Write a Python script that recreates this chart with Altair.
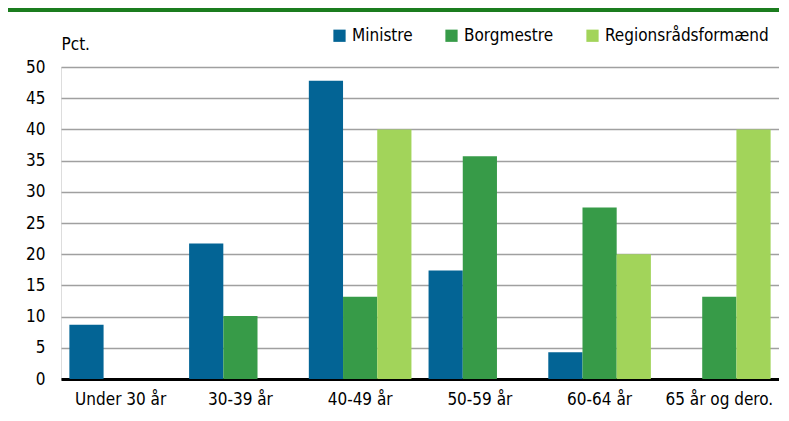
import altair as alt
import pandas as pd

categories = ["Under 30 år", "30-39 år", "40-49 år", "50-59 år", "60-64 år", "65 år og dero."]
series = ["Ministre", "Borgmestre", "Regionsrådsformænd"]
ministre = [8.7, 21.7, 47.8, 17.4, 4.3, 0]
borgmestre = [0, 10.1, 13.2, 35.7, 27.5, 13.2]
regionsraad = [0, 0, 40, 0, 20, 40]
colors = ["#036495", "#379b48", "#a2d45a"]
y_ticks = [0, 5, 10, 15, 20, 25, 30, 35, 40, 45, 50]

rows = []
for s, vals in zip(series, [ministre, borgmestre, regionsraad]):
    for c, v in zip(categories, vals):
        rows.append({"Gruppe": c, "Serie": s, "Pct": v})
df = pd.DataFrame(rows)

FONT = "DejaVu Sans Condensed"
FS = 17

bars = alt.Chart(df).mark_bar().encode(
    x=alt.X("Gruppe:N", sort=categories,
            scale=alt.Scale(paddingInner=0.143, paddingOuter=0.07),
            axis=alt.Axis(title=None, labelAngle=0, labelFontSize=FS, labelPadding=12,
                          labelColor="#000000", domainColor="#000000", domainWidth=3,
                          ticks=False, grid=False, labelFont=FONT)),
    xOffset=alt.XOffset("Serie:N", sort=series, scale=alt.Scale(paddingInner=0, paddingOuter=0)),
    y=alt.Y("Pct:Q", scale=alt.Scale(domain=[0, 50], nice=False),
            axis=alt.Axis(title="Pct.", titleAngle=0, titleX=0, titleY=-14, titleAlign="left",
                          titleBaseline="bottom", titleFontSize=FS, titleFontWeight="normal",
                          titleFont=FONT, titleColor="#000000",
                          values=y_ticks, labelFontSize=FS, labelPadding=16, labelFont=FONT,
                          labelColor="#000000", domain=False, ticks=False,
                          gridColor="#a0a0a0", gridWidth=1.6)),
    color=alt.Color("Serie:N", sort=series,
                    scale=alt.Scale(domain=series, range=colors),
                    legend=alt.Legend(title=None, orient="none", legendX=270, legendY=-40,
                                      direction="horizontal", symbolType="square",
                                      symbolSize=150, symbolStrokeWidth=0, labelFontSize=FS,
                                      labelFont=FONT, labelColor="#000000", columnPadding=30,
                                      labelOffset=4, labelLimit=300)),
)

top_line = alt.Chart(df).mark_rule(color="#1b7d1e", strokeWidth=3).encode(
    x=alt.value(-58), x2=alt.value(720), y=alt.value(-57)
)

chart = alt.layer(bars, top_line).properties(
    width=718, height=312,
    autosize=alt.AutoSizeParams(type="none"),
    padding={"left": 53, "top": 59, "right": 0, "bottom": 34},
).configure_view(stroke=None).configure(background="#ffffff")

chart.save("out.html", embed_options={"renderer": "svg", "actions": False})
